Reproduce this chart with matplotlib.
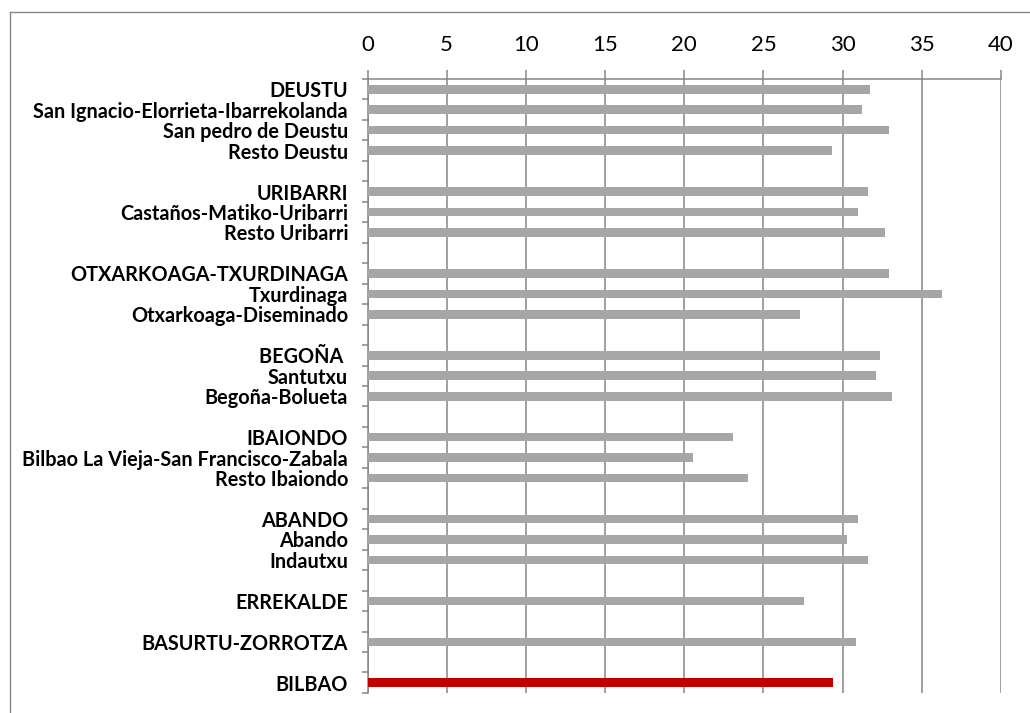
import numpy as np
import matplotlib
matplotlib.use("Agg")
from matplotlib import pyplot as plt
from matplotlib.lines import Line2D

# rows top to bottom, "" / nan = empty row between groups
labels = ["DEUSTU", "San Ignacio-Elorrieta-Ibarrekolanda", "San pedro de Deustu", "Resto Deustu", "",
          "URIBARRI", "Castaños-Matiko-Uribarri", "Resto Uribarri", "",
          "OTXARKOAGA-TXURDINAGA", "Txurdinaga", "Otxarkoaga-Diseminado", "",
          "BEGOÑA ", "Santutxu", "Begoña-Bolueta", "",
          "IBAIONDO", "Bilbao La Vieja-San Francisco-Zabala", "Resto Ibaiondo", "",
          "ABANDO", "Abando", "Indautxu", "",
          "ERREKALDE", "",
          "BASURTU-ZORROTZA", "",
          "BILBAO"]
values = [31.7, 31.25, 32.9, 29.3, np.nan,
          31.6, 31.0, 32.7, np.nan,
          32.9, 36.3, 27.3, np.nan,
          32.35, 32.1, 33.15, np.nan,
          23.1, 20.55, 24.0, np.nan,
          31.0, 30.3, 31.6, np.nan,
          27.55, np.nan,
          30.85, np.nan,
          29.4]
xticks = [0, 5, 10, 15, 20, 25, 30, 35, 40]

grey = "#868686"
colors = ["#C00000" if l == "BILBAO" else "#A6A6A6" for l in labels]

plt.rcParams['font.family'] = ['Lato', 'DejaVu Sans']

fig = plt.figure(figsize=(10.3, 7.13), dpi=100)
ax = fig.add_axes([0.3568, 0.0281, 0.615, 0.8611])

pos = np.arange(len(labels))
ax.barh(pos, np.nan_to_num(values), height=0.42, color=colors, zorder=3)

ax.set_ylim(len(labels) - 0.5, -0.5)
ax.set_xlim(0, 40)
ax.set_yticks(pos)
ax.set_yticklabels(labels, fontsize=14.3, fontweight="bold")
ax.set_yticks(np.arange(-0.5, len(labels)), minor=True)
ax.tick_params(axis="y", which="major", length=0, pad=14)
ax.tick_params(axis="y", which="minor", length=4, width=1.1, color=grey, direction="out")

ax.xaxis.tick_top()
ax.set_xticks(xticks)
ax.set_xticklabels([str(t) for t in xticks], fontsize=16)
ax.tick_params(axis="x", which="major", length=6.5, width=1.1, color=grey, pad=11)

ax.grid(axis="x", color=grey, linewidth=1.1, zorder=0)
ax.grid(axis="y", visible=False)
for s in ["right", "bottom"]:
    ax.spines[s].set_visible(False)
for s in ["left", "top"]:
    ax.spines[s].set_color(grey)
    ax.spines[s].set_linewidth(1.1)

# chart area frame
fig.add_artist(Line2D([10 / 1030, 10 / 1030], [0, 1 - 12 / 713], color=grey, linewidth=1.0, transform=fig.transFigure))
fig.add_artist(Line2D([10 / 1030, 1], [1 - 12 / 713, 1 - 12 / 713], color=grey, linewidth=1.0, transform=fig.transFigure))

fig.savefig("out.png", dpi=100)
